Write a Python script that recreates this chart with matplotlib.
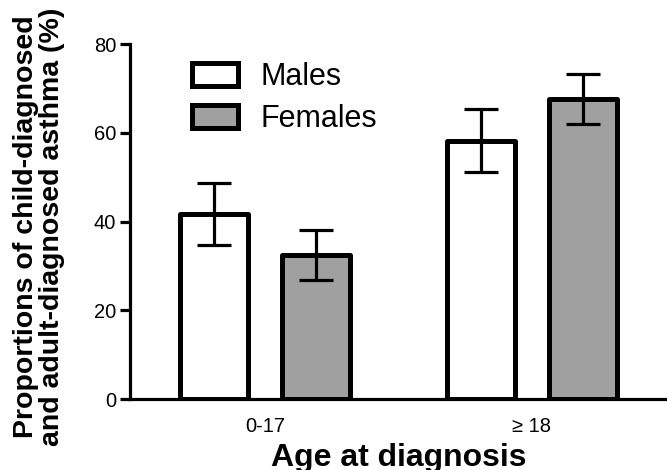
import matplotlib
matplotlib.use("Agg")
import matplotlib.pyplot as plt
import numpy as np

plt.rcParams["font.family"] = ["Liberation Sans", "DejaVu Sans"]

age_groups = ["0-17", "\u2265 18"]
series_names = ["Males", "Females"]
males = [41.7, 58.2]
females = [32.5, 67.6]
males_err = [7.0, 7.1]
females_err = [5.7, 5.6]
fill_colors = ["white", "#a0a0a0"]

fig = plt.figure(figsize=(6.67, 4.70), dpi=100)
ax = fig.add_axes([0.195, 0.151, 0.805, 0.755])

x = np.arange(len(age_groups))
width = 0.255
offset = 0.19
for vals, errs, name, color, sign in zip(
    [males, females], [males_err, females_err], series_names, fill_colors, [-1, 1]
):
    ax.bar(
        x + sign * offset, vals, width, color=color, edgecolor="black",
        linewidth=3.6, label=name, zorder=2, joinstyle="round",
    )
    ax.errorbar(
        x + sign * offset, vals, yerr=errs, fmt="none", ecolor="black",
        elinewidth=2.3, capsize=12, capthick=2.3, zorder=3,
    )

ax.set_xlim(-0.506, 1.506)
ax.set_ylim(0, 80)
ax.set_yticks([0, 20, 40, 60, 80])
ax.set_xticks(x)
ax.set_xticklabels(age_groups)
ax.tick_params(axis="y", length=7, width=2.3, labelsize=14.5, pad=3)
ax.tick_params(axis="x", length=0, labelsize=14.5, pad=13)
for side in ["top", "right"]:
    ax.spines[side].set_visible(False)
for side in ["left", "bottom"]:
    ax.spines[side].set_linewidth(2.3)

ax.set_ylabel(
    "Proportions of child-diagnosed\nand adult-diagnosed asthma (%)",
    fontsize=20.5, fontweight="bold", labelpad=21, linespacing=1.0,
)
ax.yaxis.label.set_y(0.486)
ax.set_xlabel("Age at diagnosis", fontsize=23, fontweight="bold", labelpad=5)

ax.legend(
    loc="upper left", bbox_to_anchor=(0.115, 0.95), frameon=False,
    fontsize=22, handlelength=1.5, handleheight=0.8, handletextpad=0.75,
    labelspacing=0.4, borderpad=0, borderaxespad=0,
)

fig.savefig("out.png", dpi=100)
